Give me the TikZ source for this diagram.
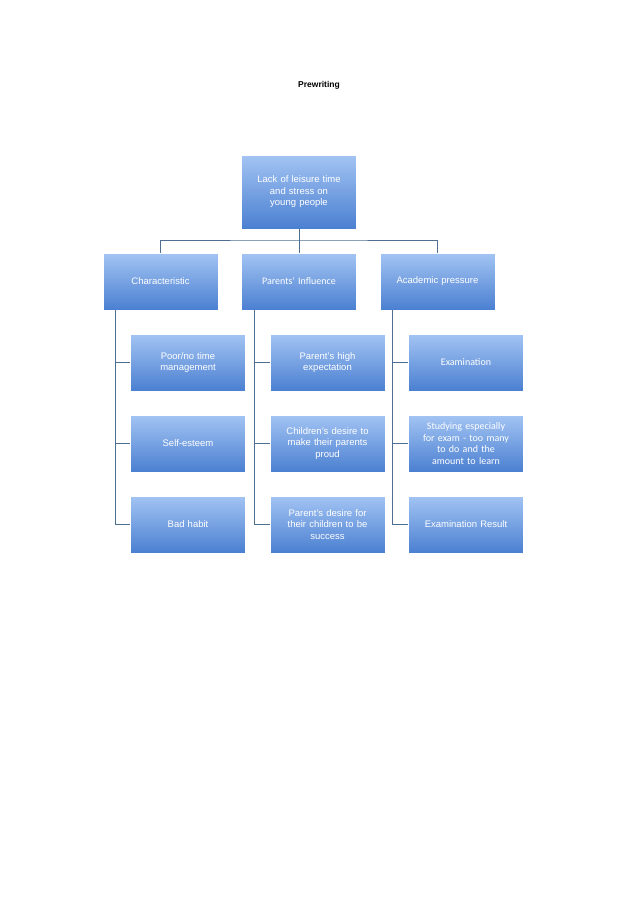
\documentclass[tikz,border=0pt]{standalone}
\usepackage{fontspec}
\setmainfont{Liberation Sans}
\newfontfamily\calfnt{Carlito}
\definecolor{btop}{HTML}{A3C4F3}
\definecolor{bbot}{HTML}{4A7FD1}
\definecolor{lnc}{HTML}{4E6F91}
\begin{document}
\begin{tikzpicture}[x=1pt,y=-1pt,
 box/.style={minimum width=115pt,minimum height=57pt,inner sep=1pt,top color=btop,bottom color=bbot,draw=white,line width=0.6pt,text=white,align=center,text width=112pt,font=\fontsize{9.5}{11.5}\selectfont},
 ln/.style={draw=lnc,line width=0.9pt}]
\useasboundingbox (0,0) rectangle (638,903);
\node[font=\bfseries\fontsize{8.5}{10}\selectfont] (title) at (319,85) {Prewriting};
\node[box,minimum height=74pt] (root) at (299,192) {Lack of leisure time\\and stress on\\young people};
\node[box] (c1) at (160.5,281.5) {Characteristic};
\node[box,font=\calfnt\fontsize{10}{12}\selectfont] (c2) at (299,281.5) {Parents' Influence};
\node[box] (c3) at (437.5,281.5) {Academic pressure};
\node[box] (a1) at (188,362.5) {Poor/no time\\management};
\node[box] (a2) at (188,443.5) {Self-esteem};
\node[box] (a3) at (188,524.5) {Bad habit};
\node[box] (b1) at (327.5,362.5) {Parent's high\\expectation};
\node[box] (b2) at (327.5,443.5) {Children's desire to\\make their parents\\proud};
\node[box] (b3) at (327.5,524.5) {Parent's desire for\\their children to be\\success};
\node[box,font=\calfnt\fontsize{10}{12}\selectfont] (d1) at (466,362.5) {Examination};
\node[box,font=\calfnt\fontsize{10}{11.5}\selectfont] (d2) at (466,443.5) {Studying especially\\for exam - too many\\to do and the\\amount to learn};
\node[box] (d3) at (466,524.5) {Examination Result};
\coordinate (hj) at (299,240);
\draw[ln] (root.south) -- (hj);
\draw[ln] (c1.north) |- (hj) -| (c3.north);
\draw[ln] (hj) -- (c2.north);
\foreach \p/\a/\b/\c in {c1/a1/a2/a3,c2/b1/b2/b3,c3/d1/d2/d3}{
 \draw[ln] ([xshift=-45pt]\p.south) |- (\c.west);
 \draw[ln] ([xshift=-45pt]\p.south) |- (\a.west);
 \draw[ln] ([xshift=-45pt]\p.south) |- (\b.west);
}
\end{tikzpicture}
\end{document}
